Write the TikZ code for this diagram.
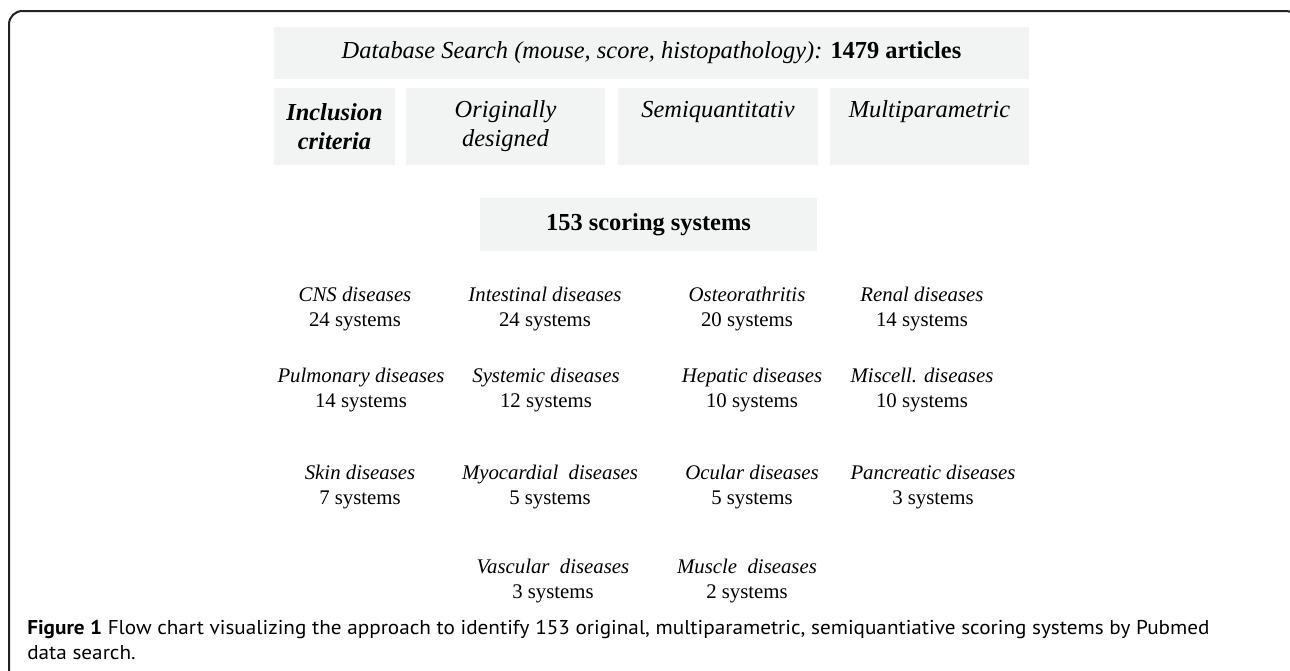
\documentclass[tikz,border=0pt]{standalone}
\usepackage{fontspec}
\setmainfont{Liberation Serif}
\newfontfamily\capfont[FakeStretch=1.06]{PT Sans}
\definecolor{boxgray}{RGB}{242,243,243}
\definecolor{framegray}{RGB}{34,34,34}
\tikzset{
  critbox/.style={fill=boxgray, inner sep=0pt, align=center,
    font=\fontsize{18.3}{21.75}\selectfont\itshape},
  disease/.style={align=center, inner sep=0pt,
    font=\fontsize{15.6}{18.75}\selectfont}
}
\begin{document}
\begin{tikzpicture}[x=0.75pt,y=-0.75pt]
\useasboundingbox (0,0) rectangle (1290,671);
\draw[framegray, line width=1.5pt, rounded corners=10] (9,690) -- (9,11) -- (1299,11) -- (1299,40);

\node[critbox, minimum width=566.25pt, minimum height=39pt] (search) at (651.5,53)
  {\raisebox{-2.5pt}{Database Search (mouse, score, histopathology): \textbf{\upshape 1479 articles}}};

\node[critbox, minimum width=90.75pt, minimum height=57.75pt] (incl) at (334.5,126.5) {\textbf{Inclusion}\\\textbf{criteria}};
\node[critbox, minimum width=149.25pt, minimum height=57.75pt] (orig) at (505.5,126.5) {Originally\\designed};
\node[critbox, minimum width=150pt, minimum height=57.75pt] (semi) at (718,126.5) {Semiquantitativ\\\vphantom{designed}};
\node[critbox, minimum width=149.25pt, minimum height=57.75pt] (multi) at (929.5,126.5) {Multiparametric\\\vphantom{designed}};

\node[critbox, font=\fontsize{18.3}{21.75}\selectfont\bfseries, minimum width=252.75pt, minimum height=39.75pt] (total) at (648.5,224.5) {\raisebox{-1.5pt}{153 scoring systems}};

\node[disease] (cns) at (355,309) {\textit{CNS diseases}\\24 systems};
\node[disease] (intest) at (545,309) {\textit{Intestinal diseases}\\24 systems};
\node[disease] (osteo) at (747,309) {\textit{Osteorathritis}\\20 systems};
\node[disease] (renal) at (922,309) {\textit{Renal diseases}\\14 systems};

\node[disease] (pulm) at (361,390.5) {\textit{Pulmonary diseases}\\14 systems};
\node[disease] (syst) at (546,390.5) {\textit{Systemic diseases}\\12 systems};
\node[disease] (hepat) at (752,390.5) {\textit{Hepatic diseases}\\10 systems};
\node[disease] (misc) at (922,390.5) {\textit{Miscell. diseases}\\10 systems};

\node[disease] (skin) at (360,487.5) {\textit{Skin diseases}\\7 systems};
\node[disease] (myo) at (550,487.5) {\textit{Myocardial\ \ diseases}\\5 systems};
\node[disease] (ocul) at (752,487.5) {\textit{Ocular diseases}\\5 systems};
\node[disease] (pancr) at (933,487.5) {\textit{Pancreatic diseases}\\3 systems};

\node[disease] (vasc) at (553,581.5) {\textit{Vascular\ \ diseases}\\3 systems};
\node[disease] (musc) at (747,581.5) {\textit{Muscle\ \ diseases}\\2 systems};

% caption
\node[anchor=north west, align=left, inner sep=0pt,
  font=\capfont\fontsize{15}{19}\selectfont] (caption) at (27,620)
  {\textbf{Figure 1} Flow chart visualizing the approach to identify 153 original, multiparametric, semiquantiative scoring systems by Pubmed\\data search.};
\end{tikzpicture}
\end{document}
